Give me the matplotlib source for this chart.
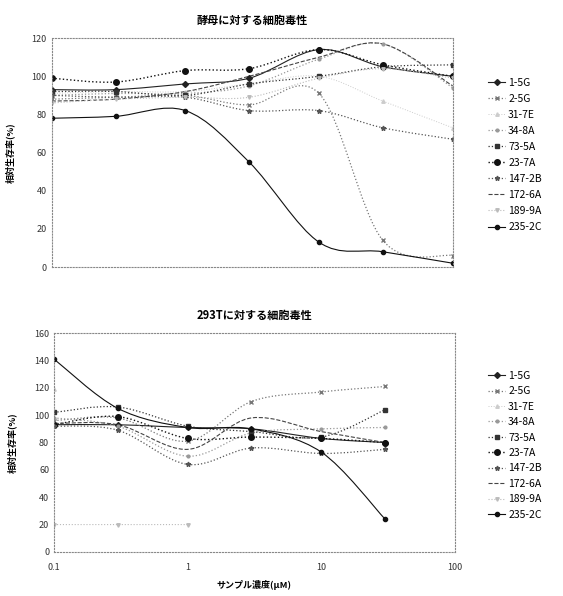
import numpy as np
import matplotlib
matplotlib.use("Agg")
import matplotlib.pyplot as plt
from matplotlib.path import Path
from matplotlib.patches import PathPatch
from matplotlib.lines import Line2D

plt.rcParams['font.family'] = ['Noto Sans CJK JP', 'DejaVu Sans']

names = ["1-5G", "2-5G", "31-7E", "34-8A", "73-5A", "23-7A", "147-2B", "172-6A", "189-9A", "235-2C"]

# yeast
conc_top = [0.1, 0.3, 1, 3, 10, 30, 100]
yeast = {
    "1-5G":   [93, 93, 96, 99, 114, 105, 100],
    "2-5G":   [88, 89, 90, 85, 91, 14, 6],
    "31-7E":  [91, 92, 92, 96, 100, 87, 73],
    "34-8A":  [90, 91, 91, 95, 109, 117, 94],
    "73-5A":  [92, 92, 90, 96, 100, 105, 106],
    "23-7A":  [99, 97, 103, 104, 114, 106, 100],
    "147-2B": [90, 89, 89, 82, 82, 73, 67],
    "172-6A": [87, 88, 92, 100, 110, 117, 95],
    "189-9A": [86, 88, 89, 89, 99, 104, 99],
    "235-2C": [78, 79, 82, 55, 13, 8, 2],
}

# 293T
conc_bot = [0.1, 0.3, 1, 3, 10, 30]
cells = {
    "1-5G":   [93, 93, 91, 90, 83, 80],
    "2-5G":   [96, 98, 81, 110, 117, 121],
    "31-7E":  [119, np.nan, np.nan, np.nan, np.nan, np.nan],
    "34-8A":  [98, 92, 70, 87, 90, 91],
    "73-5A":  [102, 106, 92, 88, 84, 104],
    "23-7A":  [93, 99, 83, 84, 83, 80],
    "147-2B": [92, 89, 64, 76, 72, 75],
    "172-6A": [94, 93, 75, 98, 88, 80],
    "189-9A": [20, 20, 20, np.nan, np.nan, np.nan],
    "235-2C": [141, 105, 91, 90, 73, 24],
}

styles = {
    "1-5G":   dict(color="#222222", marker="D", ms=3, ls="-", lw=0.8),
    "2-5G":   dict(color="#777777", marker="x", ms=3.5, ls=":", lw=0.9),
    "31-7E":  dict(color="#cccccc", marker="^", ms=2.5, ls=":", lw=0.7),
    "34-8A":  dict(color="#999999", marker="o", ms=2, ls=":", lw=0.9),
    "73-5A":  dict(color="#333333", marker="s", ms=2.5, ls=":", lw=0.9),
    "23-7A":  dict(color="#111111", marker="o", ms=4, ls=":", lw=1.0),
    "147-2B": dict(color="#555555", marker="*", ms=3.5, ls=":", lw=0.9),
    "172-6A": dict(color="#444444", marker="", ms=0, ls="--", lw=0.8),
    "189-9A": dict(color="#bbbbbb", marker="v", ms=2.5, ls=":", lw=0.8),
    "235-2C": dict(color="#111111", marker="o", ms=3, ls="-", lw=0.8),
}


def smooth_patch(ax, xs, ys, st):
    # Catmull-Rom -> cubic Bezier in log-x space, drawn by matplotlib Path
    lx = np.log10(np.asarray(xs, float))
    y = np.asarray(ys, float)
    ok = ~np.isnan(y)
    lx, y = lx[ok], y[ok]
    if len(y) < 2:
        return
    verts = [(10 ** lx[0], y[0])]
    codes = [Path.MOVETO]
    n = len(y)
    for i in range(n - 1):
        p0 = (lx[max(i - 1, 0)], y[max(i - 1, 0)])
        p1 = (lx[i], y[i])
        p2 = (lx[i + 1], y[i + 1])
        p3 = (lx[min(i + 2, n - 1)], y[min(i + 2, n - 1)])
        c1 = (p1[0] + (p2[0] - p0[0]) / 6, p1[1] + (p2[1] - p0[1]) / 6)
        c2 = (p2[0] - (p3[0] - p1[0]) / 6, p2[1] - (p3[1] - p1[1]) / 6)
        for c in (c1, c2, p2):
            verts.append((10 ** c[0], c[1]))
            codes.append(Path.CURVE4)
    patch = PathPatch(Path(verts, codes), fill=False, edgecolor=st["color"],
                      lw=st["lw"], ls=st["ls"])
    ax.add_patch(patch)


def draw(ax, conc, data, ymax, title):
    for nm in names:
        st = styles[nm]
        smooth_patch(ax, conc, data[nm], st)
        if st["marker"]:
            ax.plot(conc, data[nm], ls="none", marker=st["marker"], ms=st["ms"],
                    color=st["color"], mec=st["color"])
    ax.set_xscale("log")
    ax.set_xlim(0.1, 100)
    ax.set_ylim(0, ymax)
    for sp in ax.spines.values():
        sp.set_linestyle(":")
        sp.set_color("#888888")
        sp.set_linewidth(0.8)
    ax.tick_params(axis="both", length=0, labelsize=6.5, colors="#333333")
    ax.xaxis.set_minor_locator(plt.NullLocator())
    ax.set_title(title, fontsize=8, fontweight="bold", pad=10)
    ax.set_ylabel("相対生存率(%)", fontsize=6.5, fontweight="bold", labelpad=12)
    handles = [Line2D([], [], color=styles[nm]["color"], ls=styles[nm]["ls"],
                      lw=styles[nm]["lw"], marker=styles[nm]["marker"],
                      ms=styles[nm]["ms"]) for nm in names]
    return handles


fig = plt.figure(figsize=(5.63, 5.96), dpi=100)

ax1 = fig.add_axes([0.092, 0.552, 0.712, 0.384])
h = draw(ax1, conc_top, yeast, 120, "酵母に対する細胞毒性")
ax1.set_yticks(np.arange(0, 121, 20))
ax1.set_xticks([0.1, 1, 10, 100])
ax1.set_xticklabels([])
fig.legend(h, names, loc="center left", bbox_to_anchor=(0.858, 0.74),
           frameon=False, fontsize=7.5, handlelength=1.6, handletextpad=0.3,
           labelspacing=0.58, borderpad=0)

ax2 = fig.add_axes([0.096, 0.074, 0.712, 0.367])
h = draw(ax2, conc_bot, cells, 160, "293Tに対する細胞毒性")
ax2.set_yticks(np.arange(0, 161, 20))
ax2.set_xticks([0.1, 1, 10, 100])
ax2.set_xticklabels(["0.1", "1", "10", "100"])
ax2.tick_params(axis="x", pad=8)
ax2.set_xlabel("サンプル濃度(μM)", fontsize=6.5, fontweight="bold", labelpad=6)
fig.legend(h, names, loc="center left", bbox_to_anchor=(0.858, 0.253),
           frameon=False, fontsize=7.5, handlelength=1.6, handletextpad=0.3,
           labelspacing=0.52, borderpad=0)

fig.savefig("out.png", dpi=100)
